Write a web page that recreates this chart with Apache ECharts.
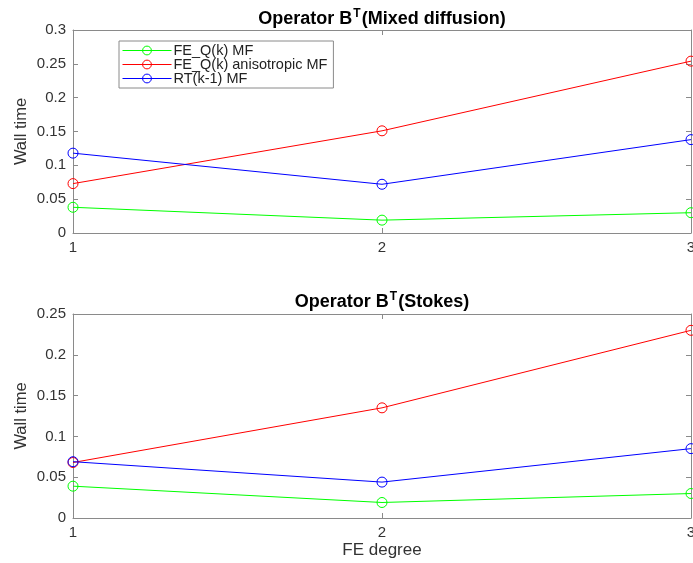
<!DOCTYPE html>
<html>
<head>
<meta charset="utf-8">
<script src="https://cdn.jsdelivr.net/npm/echarts@6/dist/echarts.min.js"></script>
<style>html,body{margin:0;padding:0;background:#fff;overflow:hidden}#c{width:693px;height:563px}</style>
</head>
<body>
<div id="c"></div>
<script>
var degrees = [1, 2, 3];
var seriesNames = ['FE_Q(k) MF', 'FE_Q(k) anisotropic MF', 'RT(k-1) MF'];
var mixedGreen = [0.038, 0.019, 0.030];
var mixedRed = [0.073, 0.151, 0.254];
var mixedBlue = [0.118, 0.072, 0.138];
var stokesGreen = [0.039, 0.019, 0.030];
var stokesRed = [0.068, 0.135, 0.230];
var stokesBlue = [0.069, 0.044, 0.085];
var yTicksTop = [0, 0.05, 0.1, 0.15, 0.2, 0.25, 0.3];
var yTicksBottom = [0, 0.05, 0.1, 0.15, 0.2, 0.25];

var colors = ['#00ff00', '#ff0000', '#0000ff'];
var axisColor = '#8a8a8a';
var labelColor = '#333';
var FONT = 'Liberation Sans, Arial, Helvetica, sans-serif';

function pts(arr) { return degrees.map(function (d, i) { return [d, arr[i]]; }); }

function mkSeries(name, idx, data, grid) {
  return {
    name: name, type: 'line', xAxisIndex: grid * 2, yAxisIndex: grid * 2,
    data: pts(data), symbol: 'circle', symbolSize: 10,
    lineStyle: { color: colors[idx], width: 1 },
    itemStyle: { color: 'rgba(255,255,255,0)', borderColor: colors[idx], borderWidth: 1 },
    emphasis: { disabled: true }, animation: false, z: 3
  };
}

function xAx(grid, show, name) {
  return {
    type: 'value', gridIndex: grid, min: 1, max: 3, interval: 1,
    position: show ? 'bottom' : 'top',
    name: name || '', nameLocation: 'middle', nameGap: 24,
    nameTextStyle: { fontFamily: FONT, fontSize: 17, color: labelColor },
    axisLine: { show: true, onZero: false, lineStyle: { color: axisColor, width: 1 } },
    axisTick: { show: true, inside: true, length: 5, lineStyle: { color: axisColor } },
    axisLabel: { show: show, color: labelColor, fontFamily: FONT, fontSize: 15, margin: 7 },
    splitLine: { show: false }
  };
}
function yAx(grid, show, max, ticks) {
  return {
    type: 'value', gridIndex: grid, min: 0, max: max, interval: ticks[1] - ticks[0],
    position: show ? 'left' : 'right',
    name: show ? 'Wall time' : '', nameLocation: 'middle', nameGap: 43,
    nameMoveOverlap: false,
    nameTextStyle: { fontFamily: FONT, fontSize: 16.5, color: labelColor },
    axisLine: { show: true, onZero: false, lineStyle: { color: axisColor, width: 1 } },
    axisTick: { show: true, inside: true, length: 5, lineStyle: { color: axisColor } },
    axisLabel: { show: show, color: labelColor, fontFamily: FONT, fontSize: 15, margin: 7 },
    splitLine: { show: false }
  };
}

var richT = {
  b: { fontFamily: FONT, fontSize: 18, fontWeight: 'bold', color: '#000' },
  s: { fontFamily: FONT, fontSize: 12, fontWeight: 'bold', color: '#000', padding: [0, 1, 11, 1] }
};

var chart = echarts.init(document.getElementById('c'), null, { renderer: 'canvas' });
chart.setOption({
  backgroundColor: '#fff',
  animation: false,
  title: [
    { text: '{b|Operator B}{s|T}{b|(Mixed diffusion)}', left: 382, top: 8, textAlign: 'center',
      padding: 0, textStyle: { rich: richT } },
    { text: '{b|Operator B}{s|T}{b|(Stokes)}', left: 382, top: 291, textAlign: 'center',
      padding: 0, textStyle: { rich: richT } }
  ],
  legend: {
    orient: 'vertical', left: 119, top: 41, padding: [2, 6, 2, 3], itemGap: -1,
    itemWidth: 49, itemHeight: 11,
    backgroundColor: '#fff', borderColor: '#8a8a8a', borderWidth: 1,
    lineStyle: { width: 1 },
    itemStyle: { borderWidth: 1 },
    textStyle: { fontFamily: FONT, fontSize: 14.5, lineHeight: 13.5, color: '#222', padding: [0, 0, 0, -3] },
    data: seriesNames, selectedMode: false
  },
  grid: [
    { left: 73, width: 618, top: 30, height: 203, outerBoundsMode: 'none', containLabel: false },
    { left: 73, width: 618, top: 314, height: 204, outerBoundsMode: 'none', containLabel: false }
  ],
  xAxis: [xAx(0, true), xAx(0, false), xAx(1, true, 'FE degree'), xAx(1, false)],
  yAxis: [yAx(0, true, 0.3, yTicksTop), yAx(0, false, 0.3, yTicksTop), yAx(1, true, 0.25, yTicksBottom), yAx(1, false, 0.25, yTicksBottom)],
  series: [
    mkSeries(seriesNames[0], 0, mixedGreen, 0),
    mkSeries(seriesNames[1], 1, mixedRed, 0),
    mkSeries(seriesNames[2], 2, mixedBlue, 0),
    mkSeries(seriesNames[0], 0, stokesGreen, 1),
    mkSeries(seriesNames[1], 1, stokesRed, 1),
    mkSeries(seriesNames[2], 2, stokesBlue, 1)
  ]
});
</script>
</body>
</html>
